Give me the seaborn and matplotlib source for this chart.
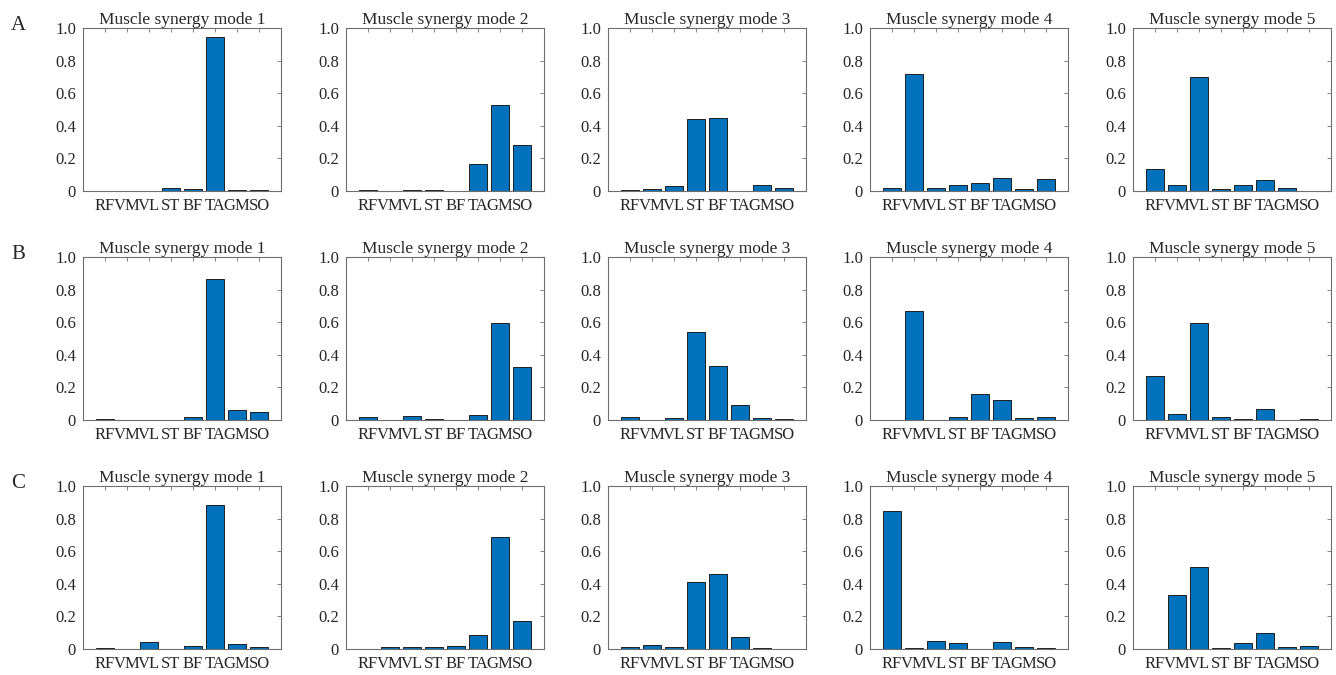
import pandas as pd
import matplotlib
matplotlib.use('Agg')
import matplotlib.pyplot as plt
import seaborn as sns

# muscles on the x axis, conditions (rows) and synergy modes (columns)
muscles = ['RF', 'VM', 'VL', 'ST', 'BF', 'TA', 'GM', 'SO']
conditions = ['A', 'B', 'C']
modes = [1, 2, 3, 4, 5]

# weights, one list per panel
A1 = [0.002, 0.0, 0.002, 0.016, 0.014, 0.945, 0.008, 0.008]
A2 = [0.008, 0.0, 0.008, 0.004, 0.0, 0.165, 0.529, 0.284]
A3 = [0.006, 0.014, 0.033, 0.439, 0.449, 0.002, 0.037, 0.020]
A4 = [0.020, 0.716, 0.016, 0.035, 0.049, 0.078, 0.012, 0.073]
A5 = [0.133, 0.035, 0.702, 0.012, 0.037, 0.067, 0.016, 0.002]

B1 = [0.004, 0.0, 0.0, 0.0, 0.018, 0.868, 0.063, 0.047]
B2 = [0.016, 0.002, 0.024, 0.006, 0.002, 0.031, 0.593, 0.328]
B3 = [0.016, 0.0, 0.010, 0.538, 0.330, 0.092, 0.010, 0.006]
B4 = [0.002, 0.668, 0.0, 0.018, 0.159, 0.124, 0.010, 0.020]
B5 = [0.269, 0.039, 0.595, 0.020, 0.004, 0.069, 0.0, 0.006]

C1 = [0.006, 0.0, 0.045, 0.002, 0.016, 0.886, 0.033, 0.012]
C2 = [0.0, 0.012, 0.012, 0.010, 0.020, 0.084, 0.686, 0.169]
C3 = [0.010, 0.024, 0.014, 0.410, 0.463, 0.076, 0.004, 0.0]
C4 = [0.847, 0.008, 0.047, 0.039, 0.002, 0.041, 0.014, 0.008]
C5 = [0.0, 0.331, 0.502, 0.004, 0.035, 0.100, 0.012, 0.018]

panels = {
    'A': [A1, A2, A3, A4, A5],
    'B': [B1, B2, B3, B4, B5],
    'C': [C1, C2, C3, C4, C5],
}

# long table for seaborn
rows = []
for cond in conditions:
    for mode, vals in zip(modes, panels[cond]):
        for m, v in zip(muscles, vals):
            rows.append({'condition': cond, 'mode': mode, 'muscle': m, 'weight': v})
df = pd.DataFrame(rows)

sns.set_style('white')
plt.rcParams['font.family'] = ['Liberation Serif', 'DejaVu Serif']
plt.rcParams['font.size'] = 12

W, H = 1336, 675
fig = plt.figure(figsize=(W / 100, H / 100), dpi=100)

col_left = [83, 346, 608, 870, 1133]
row_bottom = [191, 420, 649]
ax_w, ax_h = 198, 163
edge = '#6e6e6e'

for r, cond in enumerate(conditions):
    for c, mode in enumerate(modes):
        ax = fig.add_axes([col_left[c] / W, 1 - row_bottom[r] / H, ax_w / W, ax_h / H])
        sub = df[(df['condition'] == cond) & (df['mode'] == mode)]
        sns.barplot(data=sub, x='muscle', y='weight', order=muscles, color='#0072BD',
                    saturation=1, edgecolor='#1f1f1f', linewidth=0.7, width=0.8, ax=ax)
        ax.set_xlim(-1, 8)
        ax.set_ylim(0, 1)
        ax.set_yticks([0, 0.2, 0.4, 0.6, 0.8, 1.0])
        ax.set_yticklabels(['0', '0.2', '0.4', '0.6', '0.8', '1.0'])
        ax.set_xlabel('')
        ax.set_ylabel('')
        ax.set_title(f'Muscle synergy mode {mode}', fontsize=12.5, pad=3)
        ax.tick_params(direction='in', length=3, width=0.6, color=edge,
                       top=True, right=True, labelsize=12, pad=5)
        for s in ax.spines.values():
            s.set_visible(True)
            s.set_color(edge)
            s.set_linewidth(0.8)
    fig.text(18 / W, 1 - (25 + r * 229) / H, cond, fontsize=15, ha='center', va='center')

fig.savefig('out.png', dpi=100)
